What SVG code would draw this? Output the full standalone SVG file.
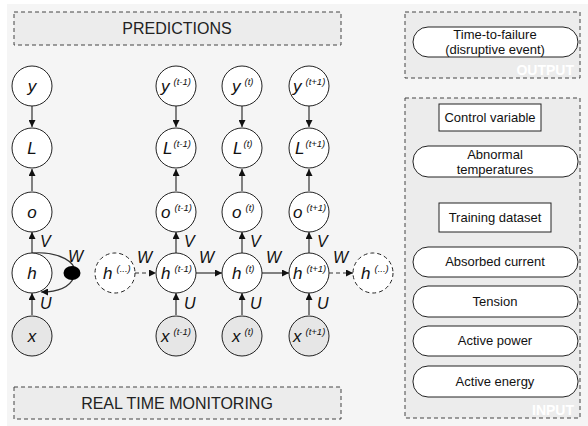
<svg xmlns="http://www.w3.org/2000/svg" width="588" height="426" viewBox="0 0 588 426">
<defs>
<style>
.bg{fill:#f5f5f5}
.dbox{fill:#ececec;stroke:#444;stroke-width:1;stroke-dasharray:4 3}
.n{fill:#fff;stroke:#222;stroke-width:1}
.nx{fill:#e6e6e6;stroke:#222;stroke-width:1}
.nd{fill:#fff;stroke:#222;stroke-width:1;stroke-dasharray:4 3}
.v{font-family:"Liberation Sans",Arial,sans-serif;font-style:italic;font-size:17px;fill:#111}
.s{font-family:"Liberation Sans",Arial,sans-serif;font-style:italic;font-size:9.5px;fill:#111}
.lbl{font-family:"Liberation Sans",Arial,sans-serif;font-style:italic;font-size:16px;fill:#111}
.t{font-family:"Liberation Sans",Arial,sans-serif;font-size:13px;fill:#111;text-anchor:middle}
.big{font-family:"Liberation Sans",Arial,sans-serif;font-size:16px;fill:#222;text-anchor:middle}
.wl{font-family:"Liberation Sans",Arial,sans-serif;font-weight:bold;font-size:14px;fill:#fff;text-anchor:end}
.e{stroke:#333;stroke-width:1.2;fill:none}
.ed{stroke:#333;stroke-width:1.2;fill:none;stroke-dasharray:4 3}
.pill{fill:#fff;stroke:#222;stroke-width:1}
</style>
<marker id="a" viewBox="0 0 10 10" refX="10" refY="5" markerWidth="7" markerHeight="7" orient="auto" markerUnits="userSpaceOnUse"><path d="M0,0 L10,5 L0,10 z" fill="#111"/></marker>
</defs>
<rect class="bg" x="7" y="4" width="581" height="422"/>

<g id="predictions"><rect class="dbox" x="14" y="12" width="327" height="33"/><text class="big" x="177" y="34">PREDICTIONS</text></g>
<g id="monitoring"><rect class="dbox" x="14" y="387" width="327" height="32"/><text class="big" x="177" y="409">REAL TIME MONITORING</text></g>

<g id="output-box"><rect class="dbox" x="405" y="12" width="175" height="66"/><text class="wl" x="574" y="75">OUTPUT</text></g>
<g id="ttf"><rect class="pill" x="413" y="27" width="165" height="30" rx="15"/><text class="t" x="495" y="39">Time-to-failure</text><text class="t" x="495" y="54">(disruptive event)</text></g>

<g id="input-box"><rect class="dbox" x="405" y="98" width="175" height="320"/><text class="wl" x="574" y="415">INPUT</text></g>
<g id="control"><rect class="pill" x="439" y="104" width="102" height="27"/><text class="t" x="490" y="122">Control variable</text></g>
<g id="abnormal"><rect class="pill" x="413" y="146" width="165" height="31" rx="15"/><text class="t" x="495" y="159">Abnormal</text><text class="t" x="495" y="174">temperatures</text></g>
<g id="training"><rect class="pill" x="439" y="203" width="112" height="29"/><text class="t" x="495" y="222">Training dataset</text></g>
<g id="current"><rect class="pill" x="413" y="247" width="165" height="30" rx="15"/><text class="t" x="495" y="266">Absorbed current</text></g>
<g id="tension"><rect class="pill" x="413" y="286" width="165" height="31" rx="15"/><text class="t" x="495" y="306">Tension</text></g>
<g id="power"><rect class="pill" x="413" y="326" width="165" height="30" rx="15"/><text class="t" x="495" y="345">Active power</text></g>
<g id="energy"><rect class="pill" x="413" y="366" width="165" height="31" rx="15"/><text class="t" x="495" y="386">Active energy</text></g>

<g id="connectors">
<line class="e" x1="32" y1="106" x2="32" y2="127" marker-end="url(#a)"/>
<line class="e" x1="32" y1="191" x2="32" y2="169" marker-end="url(#a)"/>
<line class="e" x1="32" y1="253" x2="32" y2="232" marker-end="url(#a)"/>
<line class="e" x1="32" y1="315" x2="32" y2="293" marker-end="url(#a)"/>
<path class="e" d="M32,253 C58,251 80,262 74,277 C69,289 55,292 41,292" marker-end="url(#a)"/>
<line class="e" x1="176" y1="106" x2="176" y2="127" marker-end="url(#a)"/>
<line class="e" x1="176" y1="191" x2="176" y2="169" marker-end="url(#a)"/>
<line class="e" x1="176" y1="253" x2="176" y2="232" marker-end="url(#a)"/>
<line class="e" x1="176" y1="315" x2="176" y2="293" marker-end="url(#a)"/>
<line class="e" x1="242" y1="106" x2="242" y2="127" marker-end="url(#a)"/>
<line class="e" x1="242" y1="191" x2="242" y2="169" marker-end="url(#a)"/>
<line class="e" x1="242" y1="253" x2="242" y2="232" marker-end="url(#a)"/>
<line class="e" x1="242" y1="315" x2="242" y2="293" marker-end="url(#a)"/>
<line class="e" x1="309" y1="106" x2="309" y2="127" marker-end="url(#a)"/>
<line class="e" x1="309" y1="191" x2="309" y2="169" marker-end="url(#a)"/>
<line class="e" x1="309" y1="253" x2="309" y2="232" marker-end="url(#a)"/>
<line class="e" x1="309" y1="315" x2="309" y2="293" marker-end="url(#a)"/>
<line class="ed" x1="135" y1="273" x2="156" y2="273" marker-end="url(#a)"/>
<line class="e" x1="196" y1="273" x2="222" y2="273" marker-end="url(#a)"/>
<line class="e" x1="262" y1="273" x2="289" y2="273" marker-end="url(#a)"/>
<line class="ed" x1="329" y1="273" x2="353" y2="273" marker-end="url(#a)"/>
<ellipse cx="72" cy="273" rx="8.5" ry="7" fill="#000"/>
<text class="lbl" x="40" y="247">V</text><text class="lbl" x="40" y="309">U</text><text class="lbl" x="68" y="262">W</text>
<text class="lbl" x="184" y="247">V</text><text class="lbl" x="184" y="309">U</text>
<text class="lbl" x="250" y="247">V</text><text class="lbl" x="250" y="309">U</text>
<text class="lbl" x="317" y="247">V</text><text class="lbl" x="317" y="309">U</text>
<text class="lbl" x="137" y="263">W</text><text class="lbl" x="199" y="263">W</text><text class="lbl" x="266" y="263">W</text><text class="lbl" x="333" y="263">W</text>
</g>

<g id="y"><circle class="n" cx="32" cy="86" r="20"/><text class="v" x="32" y="92" text-anchor="middle">y</text></g>
<g id="L"><circle class="n" cx="32" cy="148" r="20"/><text class="v" x="32" y="154" text-anchor="middle">L</text></g>
<g id="o"><circle class="n" cx="32" cy="212" r="20"/><text class="v" x="32" y="218" text-anchor="middle">o</text></g>
<g id="h"><circle class="n" cx="32" cy="273" r="20"/><text class="v" x="32" y="279" text-anchor="middle">h</text></g>
<g id="x"><circle class="nx" cx="32" cy="336" r="20"/><text class="v" x="32" y="342" text-anchor="middle">x</text></g>

<g id="h-prev"><circle class="nd" cx="115" cy="273" r="20"/><text class="v" x="103" y="279">h<tspan class="s" dx="4" dy="-7">(...)</tspan></text></g>
<g id="h-next"><circle class="nd" cx="373" cy="273" r="20"/><text class="v" x="361" y="279">h<tspan class="s" dx="4" dy="-7">(...)</tspan></text></g>

<g id="y-t1"><circle class="n" cx="176" cy="86" r="20"/><text class="v" x="161" y="92">y<tspan class="s" dx="4" dy="-7">(t-1)</tspan></text></g>
<g id="L-t1"><circle class="n" cx="176" cy="148" r="20"/><text class="v" x="163" y="154">L<tspan class="s" dx="1" dy="-7">(t-1)</tspan></text></g>
<g id="o-t1"><circle class="n" cx="176" cy="212" r="20"/><text class="v" x="161" y="218">o<tspan class="s" dx="4" dy="-7">(t-1)</tspan></text></g>
<g id="h-t1"><circle class="n" cx="176" cy="273" r="20"/><text class="v" x="161" y="279">h<tspan class="s" dx="4" dy="-7">(t-1)</tspan></text></g>
<g id="x-t1"><circle class="nx" cx="176" cy="336" r="20"/><text class="v" x="161" y="342">x<tspan class="s" dx="4" dy="-7">(t-1)</tspan></text></g>

<g id="y-t"><circle class="n" cx="242" cy="86" r="20"/><text class="v" x="232" y="92">y<tspan class="s" dx="4" dy="-7">(t)</tspan></text></g>
<g id="L-t"><circle class="n" cx="242" cy="148" r="20"/><text class="v" x="233" y="154">L<tspan class="s" dx="1" dy="-7">(t)</tspan></text></g>
<g id="o-t"><circle class="n" cx="242" cy="212" r="20"/><text class="v" x="232" y="218">o<tspan class="s" dx="4" dy="-7">(t)</tspan></text></g>
<g id="h-t"><circle class="n" cx="242" cy="273" r="20"/><text class="v" x="232" y="279">h<tspan class="s" dx="4" dy="-7">(t)</tspan></text></g>
<g id="x-t"><circle class="nx" cx="242" cy="336" r="20"/><text class="v" x="232" y="342">x<tspan class="s" dx="4" dy="-7">(t)</tspan></text></g>

<g id="y-t2"><circle class="n" cx="309" cy="86" r="20"/><text class="v" x="293" y="92">y<tspan class="s" dx="4" dy="-7">(t+1)</tspan></text></g>
<g id="L-t2"><circle class="n" cx="309" cy="148" r="20"/><text class="v" x="295" y="154">L<tspan class="s" dx="1" dy="-7">(t+1)</tspan></text></g>
<g id="o-t2"><circle class="n" cx="309" cy="212" r="20"/><text class="v" x="293" y="218">o<tspan class="s" dx="4" dy="-7">(t+1)</tspan></text></g>
<g id="h-t2"><circle class="n" cx="309" cy="273" r="20"/><text class="v" x="293" y="279">h<tspan class="s" dx="4" dy="-7">(t+1)</tspan></text></g>
<g id="x-t2"><circle class="nx" cx="309" cy="336" r="20"/><text class="v" x="293" y="342">x<tspan class="s" dx="4" dy="-7">(t+1)</tspan></text></g>
</svg>
